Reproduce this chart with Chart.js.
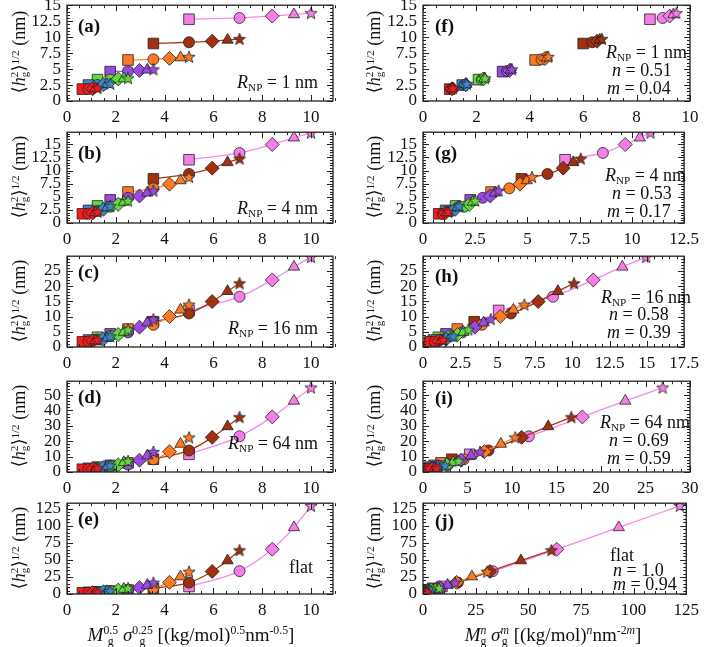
<!DOCTYPE html>
<html>
<head>
<meta charset="utf-8">
<script src="https://cdn.jsdelivr.net/npm/chart.js@4.4.1/dist/chart.umd.min.js"></script>
<style>
body{margin:0;background:#fff;width:705px;height:647px;position:relative;overflow:hidden;font-family:"Liberation Serif","DejaVu Serif",serif;color:#111;}
canvas.p{position:absolute;}
.t{position:absolute;white-space:nowrap;line-height:1;transform:translateY(-50%);}
.lab{font-weight:bold;font-size:19px;}
.ann{font-size:18px;}
.yt{position:absolute;width:130px;height:20px;line-height:20px;text-align:center;font-size:18px;white-space:nowrap;transform:rotate(-90deg);}
.xt{position:absolute;width:400px;text-align:center;font-size:19px;white-space:nowrap;line-height:1;transform:translateY(-50%);}
sub,sup{font-size:0.62em;line-height:0;}
sub{vertical-align:-0.3em;}
sup{vertical-align:0.55em;}
.st{display:inline-block;font-size:0.62em;line-height:0.9;vertical-align:-0.3em;}
.st span{display:block;}
</style>
</head>
<body>
<script>
// seven chain lengths (colour), five grafting densities (marker) each
var names = ['M1', 'M2', 'M3', 'M4', 'M5', 'M6', 'M7'];
var markers = ['rect', 'circle', 'rectRot', 'triangle', 'star'];

// x for panels a-e: Mg^0.5 sigma^0.25
var xA = [[0.63,0.88,1.05,1.16,1.25],
          [0.88,1.25,1.49,1.64,1.77],
          [1.25,1.77,2.10,2.33,2.50],
          [1.77,2.50,2.97,3.29,3.54],
          [2.50,3.54,4.20,4.65,5.00],
          [3.54,5.00,5.95,6.58,7.07],
          [5.00,7.07,8.41,9.30,10.0]];
// x for panels f-j: Mg^n sigma^m
var xF = [[1.00,1.06,1.09,1.10,1.12],
          [1.47,1.55,1.60,1.62,1.64],
          [2.08,2.20,2.26,2.30,2.32],
          [2.98,3.15,3.24,3.29,3.33],
          [4.20,4.44,4.57,4.64,4.69],
          [6.00,6.34,6.52,6.62,6.70],
          [8.50,8.98,9.24,9.38,9.49]];
var xG = [[0.75,0.95,1.07,1.14,1.20],
          [1.08,1.37,1.54,1.65,1.73],
          [1.56,1.97,2.22,2.38,2.50],
          [2.26,2.86,3.22,3.45,3.62],
          [3.26,4.13,4.64,4.97,5.22],
          [4.71,5.96,6.71,7.19,7.55],
          [6.80,8.61,9.68,10.38,10.89]];
var xH = [[0.46,0.79,1.04,1.21,1.36],
          [0.69,1.18,1.55,1.82,2.04],
          [1.03,1.77,2.32,2.71,3.04],
          [1.54,2.64,3.47,4.06,4.54],
          [2.30,3.95,5.18,6.06,6.79],
          [3.43,5.89,7.72,9.04,10.12],
          [5.07,8.71,11.41,13.36,14.96]];
var xI = [[0.30,0.68,1.02,1.30,1.54],
          [0.48,1.09,1.64,2.08,2.46],
          [0.78,1.77,2.66,3.38,4.00],
          [1.25,2.83,4.26,5.41,6.41],
          [2.02,4.58,6.89,8.75,10.36],
          [3.25,7.36,11.08,14.07,16.67],
          [5.25,11.89,17.90,22.73,26.93]];
var xJ = [[0.14,0.52,0.99,1.45,1.90],
          [0.28,1.03,1.98,2.89,3.79],
          [0.56,2.06,3.95,5.78,7.59],
          [1.13,4.16,7.98,11.67,15.31],
          [2.25,8.28,15.89,23.24,30.49],
          [4.50,16.56,31.77,46.49,60.98],
          [9.00,33.12,63.54,92.97,121.95]];

// <hg^2>^1/2 (nm) for R_NP = 1, 4, 16, 64 nm and flat
var yA = [[1.86,1.88,1.92,1.96,2.0],
          [2.5,2.5,2.55,2.62,2.68],
          [3.35,3.35,3.45,3.52,3.56],
          [4.6,4.68,4.78,4.88,4.95],
          [6.42,6.52,6.66,6.8,6.9],
          [9.0,9.2,9.36,9.56,9.7],
          [12.8,13.0,13.3,13.55,13.75]];
var yB = [[1.75,1.75,1.9,2.0,2.1],
          [2.4,2.3,2.6,2.95,3.2],
          [3.25,3.1,3.55,4.0,4.25],
          [4.4,4.8,5.15,5.75,6.15],
          [5.9,6.6,7.4,8.1,8.75],
          [8.4,9.35,10.45,11.55,12.25],
          [12.05,13.35,14.95,16.25,17.2]];
var yC = [[1.7,1.8,1.95,2.1,2.3],
          [2.3,2.45,2.6,3.0,3.5],
          [3.2,3.6,4.1,4.9,5.7],
          [4.3,4.8,6.5,8.0,9.1],
          [5.9,7.3,10.0,12.2,13.9],
          [8.3,11.0,14.9,18.3,20.9],
          [12.0,16.5,22.0,26.3,29.5]];
var yD = [[1.8,1.85,2.0,2.2,2.4],
          [2.4,2.6,2.9,3.5,4.2],
          [3.2,3.7,4.6,6.3,7.1],
          [4.3,4.8,7.7,10.6,13.0],
          [5.9,8.2,13.2,18.2,22.4],
          [8.3,14.0,22.5,29.6,35.6],
          [11.5,23.2,35.8,46.2,54.8]];
var yE = [[1.8,1.9,2.1,2.3,2.5],
          [2.4,2.8,3.3,3.9,4.6],
          [3.2,4.3,5.7,7.2,8.5],
          [4.3,5.8,9.3,13.0,16.5],
          [5.9,8.5,17.0,25.5,32.5],
          [8.3,16.8,33.0,49.0,64.0],
          [11.0,33.5,65.5,97.5,129.0]];

var fill = ['#f21c1c', '#3f86c8', '#62d93e', '#9a4ae0', '#fb7a22', '#a0300e', '#f47ee6'];
var lineCol = ['#f03030', '#4a8cd0', '#66d040', '#9a55dd', '#f58a40', '#a53a1a', '#f48ae6'];
var radii = [7.5, 5.5, 7, 6.5, 6];

function starImg(c) {
  var cv = document.createElement('canvas');
  cv.width = 14; cv.height = 14;
  var g = cv.getContext('2d');
  g.beginPath();
  for (var i = 0; i < 10; i++) {
    var r = i % 2 ? 2.7 : 6.4, a = -Math.PI / 2 + i * Math.PI / 5;
    g.lineTo(7 + r * Math.cos(a), 7.4 + r * Math.sin(a));
  }
  g.closePath();
  g.fillStyle = c; g.fill();
  g.strokeStyle = '#222'; g.lineWidth = 0.8; g.stroke();
  return cv;
}
var stars = fill.map(starImg);

// inward major/minor ticks on all four sides, plus the box
var frame = {
  id: 'frame',
  afterDatasetsDraw: function(chart, args, o) {
    var ctx = chart.ctx, a = chart.chartArea, xs = chart.scales.x, ys = chart.scales.y;
    ctx.save();
    ctx.strokeStyle = '#222';
    ctx.lineWidth = 1;
    ctx.beginPath();
    var n = Math.round((xs.max - xs.min) / o.xMinor + 1e-6);
    for (var i = 0; i <= n; i++) {
      var v = i * o.xMinor, px = Math.round(xs.getPixelForValue(v)) + 0.5;
      var len = Math.abs(v / o.xMajor - Math.round(v / o.xMajor)) < 1e-6 ? 6 : 3;
      ctx.moveTo(px, a.bottom); ctx.lineTo(px, a.bottom - len);
      ctx.moveTo(px, a.top); ctx.lineTo(px, a.top + len);
    }
    n = Math.floor((ys.max - ys.min) / o.yMinor + 1e-6);
    for (i = 0; i <= n; i++) {
      v = i * o.yMinor; var py = Math.round(ys.getPixelForValue(v)) + 0.5;
      len = Math.abs(v / o.yMajor - Math.round(v / o.yMajor)) < 1e-6 ? 6 : 3;
      ctx.moveTo(a.left, py); ctx.lineTo(a.left + len, py);
      ctx.moveTo(a.right, py); ctx.lineTo(a.right - len, py);
    }
    ctx.stroke();
    ctx.lineWidth = 1.3;
    ctx.strokeRect(a.left, a.top, a.right - a.left, a.bottom - a.top);
    ctx.restore();
  }
};

var panels = [
  {col:0, T:4,   B:101, x:xA, y:yA, xmax:10.9, xs:2,   xm:0.5, ymax:15,   ys:2.5, ym:0.5},
  {col:0, T:131, B:223, x:xA, y:yB, xmax:10.9, xs:2,   xm:0.5, ymax:17.3, ys:2.5, ym:0.5},
  {col:0, T:255, B:347, x:xA, y:yC, xmax:10.9, xs:2,   xm:0.5, ymax:29.8, ys:5,   ym:1},
  {col:0, T:380, B:472, x:xA, y:yD, xmax:10.9, xs:2,   xm:0.5, ymax:59,   ys:10,  ym:2},
  {col:0, T:502, B:594, x:xA, y:yE, xmax:10.9, xs:2,   xm:0.5, ymax:133,  ys:25,  ym:5},
  {col:1, T:4,   B:101, x:xF, y:yA, xmax:10,   xs:2,   xm:0.5, ymax:15,   ys:2.5, ym:0.5},
  {col:1, T:131, B:223, x:xG, y:yB, xmax:12.5, xs:2.5, xm:0.5, ymax:17.3, ys:2.5, ym:0.5},
  {col:1, T:255, B:347, x:xH, y:yC, xmax:17.5, xs:2.5, xm:0.5, ymax:29.8, ys:5,   ym:1},
  {col:1, T:380, B:472, x:xI, y:yD, xmax:30,   xs:5,   xm:1,   ymax:59,   ys:10,  ym:2},
  {col:1, T:502, B:594, x:xJ, y:yE, xmax:125,  xs:25,  xm:5,   ymax:133,  ys:25,  ym:5}
];

var tickFont = {family: 'Liberation Serif', size: 17};

panels.forEach(function(p) {
  var cv = document.createElement('canvas');
  var left = p.col ? 355 : 0, L = p.col ? 423 : 67, R = p.col ? 690 : 333;
  cv.width = 350; cv.height = p.B - p.T + 45;
  cv.className = 'p';
  cv.style.left = left + 'px';
  cv.style.top = (p.T - 15) + 'px';
  document.body.appendChild(cv);
  new Chart(cv, {
    type: 'line',
    data: {
      datasets: names.map(function(n, s) {
        return {
          label: n,
          data: p.x[s].map(function(v, i) { return {x: v, y: p.y[s][i]}; }),
          borderColor: lineCol[s],
          borderWidth: 1.3,
          backgroundColor: fill[s],
          pointBackgroundColor: fill[s],
          pointBorderColor: '#222',
          pointBorderWidth: 0.8,
          pointStyle: markers.map(function(m) { return m === 'star' ? stars[s] : m; }),
          pointRadius: radii,
          cubicInterpolationMode: 'monotone'
        };
      })
    },
    options: {
      responsive: false,
      animation: false,
      events: [],
      layout: {padding: {left: L - left - 50, right: left + 350 - R, top: 15, bottom: 5}},
      plugins: {
        legend: {display: false},
        tooltip: {enabled: false},
        frame: {xMajor: p.xs, xMinor: p.xm, yMajor: p.ys, yMinor: p.ym}
      },
      scales: {
        x: {
          type: 'linear', min: 0, max: p.xmax,
          ticks: {stepSize: p.xs, includeBounds: false, font: tickFont, color: '#111', padding: 6, maxRotation: 0, autoSkip: false},
          grid: {display: false, drawTicks: false},
          border: {display: false},
          afterFit: function(s) { s.height = 25; }
        },
        y: {
          type: 'linear', min: 0, max: p.ymax,
          ticks: {stepSize: p.ys, includeBounds: false, font: tickFont, color: '#111', padding: 6, autoSkip: false},
          grid: {display: false, drawTicks: false},
          border: {display: false},
          afterFit: function(s) { s.width = 50; }
        }
      }
    },
    plugins: [frame]
  });
});
</script>

<!-- panel letters -->
<div class="t lab" style="left:78px;top:25px">(a)</div>
<div class="t lab" style="left:78px;top:152px">(b)</div>
<div class="t lab" style="left:78px;top:271px">(c)</div>
<div class="t lab" style="left:78px;top:396px">(d)</div>
<div class="t lab" style="left:78px;top:518px">(e)</div>
<div class="t lab" style="left:435px;top:25px">(f)</div>
<div class="t lab" style="left:435px;top:152px">(g)</div>
<div class="t lab" style="left:435px;top:275px">(h)</div>
<div class="t lab" style="left:435px;top:397px">(i)</div>
<div class="t lab" style="left:435px;top:520px">(j)</div>

<!-- annotations, left column -->
<div class="t ann" style="right:387px;top:82px"><i>R</i><sub>NP</sub> = 1 nm</div>
<div class="t ann" style="right:387px;top:208px"><i>R</i><sub>NP</sub> = 4 nm</div>
<div class="t ann" style="right:387px;top:328px"><i>R</i><sub>NP</sub> = 16 nm</div>
<div class="t ann" style="right:387px;top:443px"><i>R</i><sub>NP</sub> = 64 nm</div>
<div class="t ann" style="right:392px;top:567px">flat</div>

<!-- annotations, right column -->
<div class="t ann" style="left:606px;top:52px"><i>R</i><sub>NP</sub> = 1 nm</div>
<div class="t ann" style="left:612px;top:70px"><i>n</i> = 0.51</div>
<div class="t ann" style="left:607px;top:88px"><i>m</i> = 0.04</div>
<div class="t ann" style="left:605px;top:175px"><i>R</i><sub>NP</sub> = 4 nm</div>
<div class="t ann" style="left:612px;top:193px"><i>n</i> = 0.53</div>
<div class="t ann" style="left:607px;top:211px"><i>m</i> = 0.17</div>
<div class="t ann" style="left:601px;top:297px"><i>R</i><sub>NP</sub> = 16 nm</div>
<div class="t ann" style="left:609px;top:314px"><i>n</i> = 0.58</div>
<div class="t ann" style="left:607px;top:332px"><i>m</i> = 0.39</div>
<div class="t ann" style="left:600px;top:422px"><i>R</i><sub>NP</sub> = 64 nm</div>
<div class="t ann" style="left:609px;top:440px"><i>n</i> = 0.69</div>
<div class="t ann" style="left:607px;top:458px"><i>m</i> = 0.59</div>
<div class="t ann" style="left:610px;top:555px">flat</div>
<div class="t ann" style="left:613px;top:570px"><i>n</i> = 1.0</div>
<div class="t ann" style="left:613px;top:584px"><i>m</i> = 0.94</div>

<!-- y axis titles -->
<div class="yt" style="left:-46px;top:42px">⟨<i>h</i><span class="st"><span>2</span><span>g</span></span>⟩<sup>1/2</sup> (nm)</div>
<div class="yt" style="left:-46px;top:167px">⟨<i>h</i><span class="st"><span>2</span><span>g</span></span>⟩<sup>1/2</sup> (nm)</div>
<div class="yt" style="left:-46px;top:291px">⟨<i>h</i><span class="st"><span>2</span><span>g</span></span>⟩<sup>1/2</sup> (nm)</div>
<div class="yt" style="left:-46px;top:416px">⟨<i>h</i><span class="st"><span>2</span><span>g</span></span>⟩<sup>1/2</sup> (nm)</div>
<div class="yt" style="left:-46px;top:538px">⟨<i>h</i><span class="st"><span>2</span><span>g</span></span>⟩<sup>1/2</sup> (nm)</div>
<div class="yt" style="left:309px;top:42px">⟨<i>h</i><span class="st"><span>2</span><span>g</span></span>⟩<sup>1/2</sup> (nm)</div>
<div class="yt" style="left:309px;top:167px">⟨<i>h</i><span class="st"><span>2</span><span>g</span></span>⟩<sup>1/2</sup> (nm)</div>
<div class="yt" style="left:309px;top:291px">⟨<i>h</i><span class="st"><span>2</span><span>g</span></span>⟩<sup>1/2</sup> (nm)</div>
<div class="yt" style="left:309px;top:416px">⟨<i>h</i><span class="st"><span>2</span><span>g</span></span>⟩<sup>1/2</sup> (nm)</div>
<div class="yt" style="left:309px;top:538px">⟨<i>h</i><span class="st"><span>2</span><span>g</span></span>⟩<sup>1/2</sup> (nm)</div>

<!-- x axis titles -->
<div class="xt" style="left:-9px;top:636px"><i>M</i><span class="st"><span>0.5</span><span>g</span></span> <i>σ</i><span class="st"><span>0.25</span><span>g</span></span> [(kg/mol)<sup>0.5</sup>nm<sup>-0.5</sup>]</div>
<div class="xt" style="left:353px;top:636px"><i>M</i><span class="st"><span><i>n</i></span><span>g</span></span> <i>σ</i><span class="st"><span><i>m</i></span><span>g</span></span> [(kg/mol)<sup><i>n</i></sup>nm<sup>-2<i>m</i></sup>]</div>
</body>
</html>
